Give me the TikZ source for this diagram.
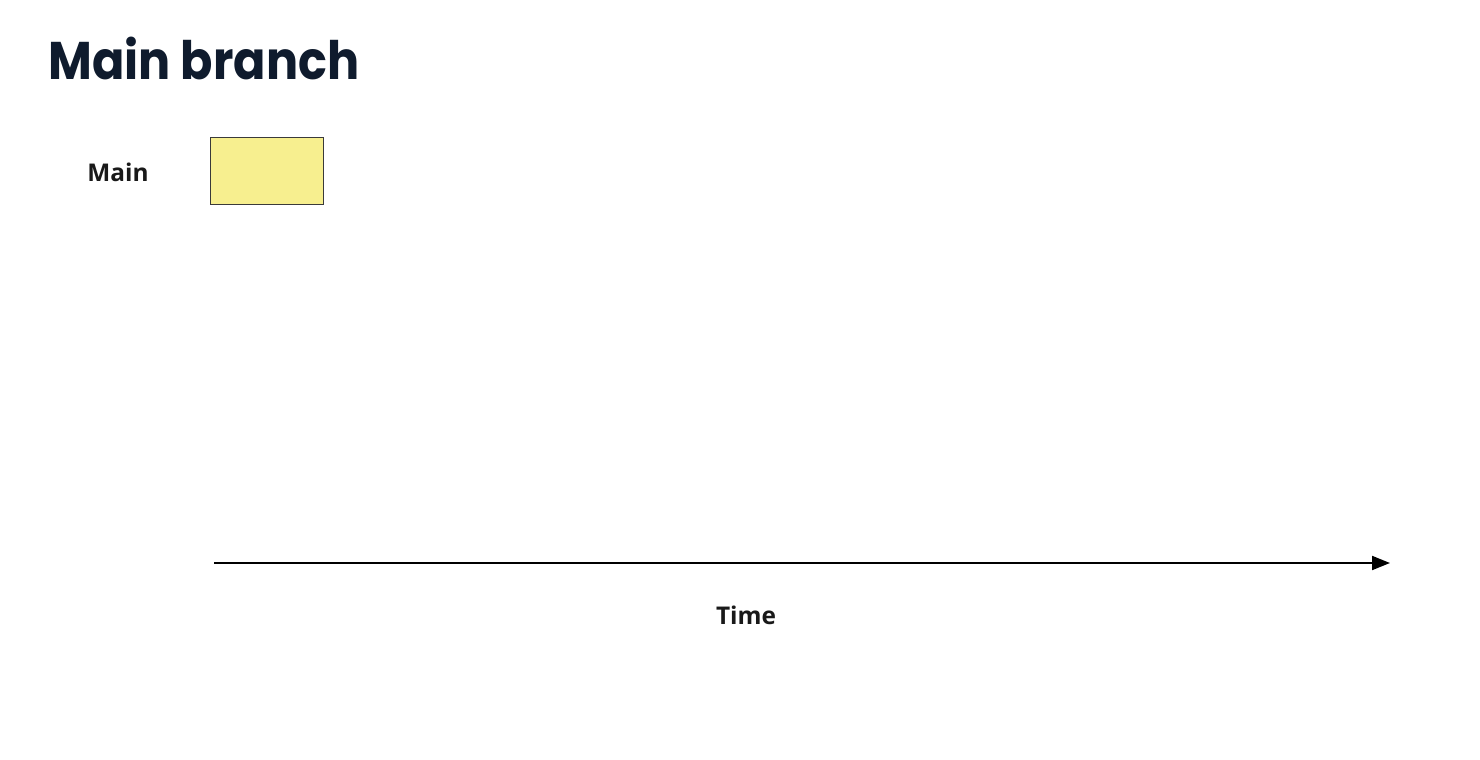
\documentclass[tikz,border=0pt]{standalone}
\usepackage{fontspec}
\setmainfont{Open Sans}
\newfontfamily\titlefont{Poppins}[FakeStretch=0.9]
\usetikzlibrary{arrows.meta, positioning}
\definecolor{titleblue}{HTML}{0F1B2D}
\definecolor{commitfill}{HTML}{F7EF8F}
\definecolor{commitdraw}{HTML}{3A3A3A}
\tikzset{
  heading/.style={font=\titlefont\bfseries\fontsize{26.5}{31}\selectfont, text=titleblue, inner sep=0pt},
  lbl/.style={font=\bfseries\fontsize{12.2}{14}\selectfont, text=black!90, inner sep=0pt},
  commit/.style={rectangle, draw=commitdraw, fill=commitfill, line width=0.6pt,
                 minimum width=56.5pt, minimum height=33.5pt, inner sep=0pt},
  timeline/.style={-{Triangle[length=9pt, width=7pt]}, line width=1pt},
}

\begin{document}
\begin{tikzpicture}[x=0.5pt, y=-0.5pt]
  \useasboundingbox (0,0) rectangle (1480,760);
  % Title
  \node[heading, anchor=west] (title) at (48,58) {Main branch};
  % Branch row
  \node[lbl, anchor=west] (main) at (87,172) {Main};
  \node[commit] (c1) at (267,171) {};
  % Time axis
  \coordinate (t0) at (214,563);
  \coordinate (t1) at (1390,563);
  \draw[timeline] (t0) -- (t1);
  \node[lbl] (time) at (746,615) {Time};
\end{tikzpicture}
\end{document}
